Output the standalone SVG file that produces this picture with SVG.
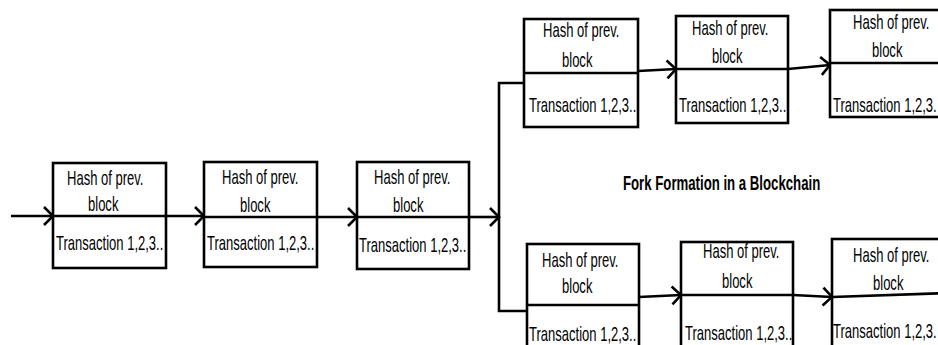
<svg xmlns="http://www.w3.org/2000/svg" width="938" height="345" viewBox="0 0 938 345">
  <defs>
    <marker id="chev" markerUnits="userSpaceOnUse" markerWidth="14" markerHeight="22" refX="11" refY="11" orient="auto">
      <path d="M2,2 L11,11 L2,20" fill="none" stroke="#000" stroke-width="2.6" stroke-linejoin="miter"/>
    </marker>
  </defs>
  <style>
    .box { fill: #fff; stroke: #000; stroke-width: 2.6; }
    .div { stroke: #000; stroke-width: 2.6; }
    .lbl { font-family: "Liberation Sans", Arial, sans-serif; font-size: 21px; fill: #000; }
    .title { font-family: "Liberation Sans", Arial, sans-serif; font-size: 20px; font-weight: bold; fill: #000; }
    .wire { fill: none; stroke: #000; stroke-width: 2.6; }
    .arrow { fill: none; stroke: #000; stroke-width: 2.6; marker-end: url(#chev); }
  </style>

  <rect width="938" height="345" fill="#fff"/>

  <!-- links between blocks -->
  <g id="connectors">
    <line class="arrow" x1="11" y1="216" x2="53" y2="216"/>
    <line class="arrow" x1="166" y1="216" x2="204" y2="216"/>
    <line class="arrow" x1="317" y1="217" x2="357" y2="217"/>
    <line class="arrow" x1="469" y1="217" x2="499" y2="217"/>
    <polyline class="wire" points="524,83 499,83 499,311 527,311"/>
    <line class="arrow" x1="638" y1="71" x2="676" y2="69"/>
    <line class="arrow" x1="788" y1="69" x2="830" y2="65"/>
    <line class="arrow" x1="639" y1="297" x2="681" y2="295"/>
    <line class="arrow" x1="793" y1="295" x2="832" y2="297"/>
  </g>

  <!-- main chain (labels use a narrowed face: scale 0.62 horizontally) -->
  <g id="block1">
    <rect class="box" x="53" y="163" width="113" height="105"/>
    <line class="div" x1="53" y1="216" x2="166" y2="216"/>
    <text class="lbl" transform="translate(67 185) scale(0.62 1)">Hash of prev.</text>
    <text class="lbl" transform="translate(88 211) scale(0.62 1)">block</text>
    <text class="lbl" transform="translate(56 250) scale(0.62 1)">Transaction 1,2,3..</text>
  </g>
  <g id="block2">
    <rect class="box" x="204" y="162" width="113" height="105"/>
    <line class="div" x1="204" y1="217" x2="317" y2="217"/>
    <text class="lbl" transform="translate(222 184) scale(0.62 1)">Hash of prev.</text>
    <text class="lbl" transform="translate(240 212) scale(0.62 1)">block</text>
    <text class="lbl" transform="translate(207 250) scale(0.62 1)">Transaction 1,2,3..</text>
  </g>
  <g id="block3">
    <rect class="box" x="357" y="162" width="112" height="107"/>
    <line class="div" x1="357" y1="217" x2="469" y2="217"/>
    <text class="lbl" transform="translate(374 184) scale(0.62 1)">Hash of prev.</text>
    <text class="lbl" transform="translate(393 212) scale(0.62 1)">block</text>
    <text class="lbl" transform="translate(359 252) scale(0.62 1)">Transaction 1,2,3..</text>
  </g>

  <!-- upper branch -->
  <g id="upperA">
    <rect class="box" x="524" y="19" width="114" height="108"/>
    <line class="div" x1="524" y1="73" x2="638" y2="73"/>
    <text class="lbl" transform="translate(543 37) scale(0.62 1)">Hash of prev.</text>
    <text class="lbl" transform="translate(562 67) scale(0.62 1)">block</text>
    <text class="lbl" transform="translate(529 112) scale(0.62 1)">Transaction 1,2,3..</text>
  </g>
  <g id="upperB">
    <rect class="box" x="676" y="16" width="112" height="107"/>
    <line class="div" x1="676" y1="69" x2="788" y2="69"/>
    <text class="lbl" transform="translate(692 35) scale(0.62 1)">Hash of prev.</text>
    <text class="lbl" transform="translate(712 63) scale(0.62 1)">block</text>
    <text class="lbl" transform="translate(679 112) scale(0.62 1)">Transaction 1,2,3..</text>
  </g>
  <g id="upperC">
    <rect class="box" x="830" y="10" width="118" height="107"/>
    <line class="div" x1="830" y1="63" x2="948" y2="63"/>
    <text class="lbl" transform="translate(853 29) scale(0.62 1)">Hash of prev.</text>
    <text class="lbl" transform="translate(872 57) scale(0.62 1)">block</text>
    <text class="lbl" transform="translate(833 112) scale(0.62 1)">Transaction 1,2,3.</text>
  </g>

  <!-- lower branch -->
  <g id="lowerA">
    <rect class="box" x="527" y="244" width="112" height="110"/>
    <line class="div" x1="527" y1="305" x2="639" y2="305"/>
    <text class="lbl" transform="translate(542 267) scale(0.62 1)">Hash of prev.</text>
    <text class="lbl" transform="translate(562 293) scale(0.62 1)">block</text>
    <text class="lbl" transform="translate(529 341) scale(0.62 1)">Transaction 1,2,3..</text>
  </g>
  <g id="lowerB">
    <rect class="box" x="681" y="242" width="112" height="112"/>
    <line class="div" x1="681" y1="295" x2="793" y2="295"/>
    <text class="lbl" transform="translate(703 258) scale(0.62 1)">Hash of prev.</text>
    <text class="lbl" transform="translate(722 288) scale(0.62 1)">block</text>
    <text class="lbl" transform="translate(685 340) scale(0.62 1)">Transaction 1,2,3..</text>
  </g>
  <g id="lowerC">
    <rect class="box" x="832" y="239" width="116" height="115"/>
    <line class="div" x1="832" y1="297" x2="948" y2="293"/>
    <text class="lbl" transform="translate(853 262) scale(0.62 1)">Hash of prev.</text>
    <text class="lbl" transform="translate(873 290) scale(0.62 1)">block</text>
    <text class="lbl" transform="translate(833 338) scale(0.62 1)">Transaction 1,2,3.</text>
  </g>

  <g id="title">
    <text class="title" transform="translate(623 190) scale(0.66 1)">Fork Formation in a Blockchain</text>
  </g>
</svg>
